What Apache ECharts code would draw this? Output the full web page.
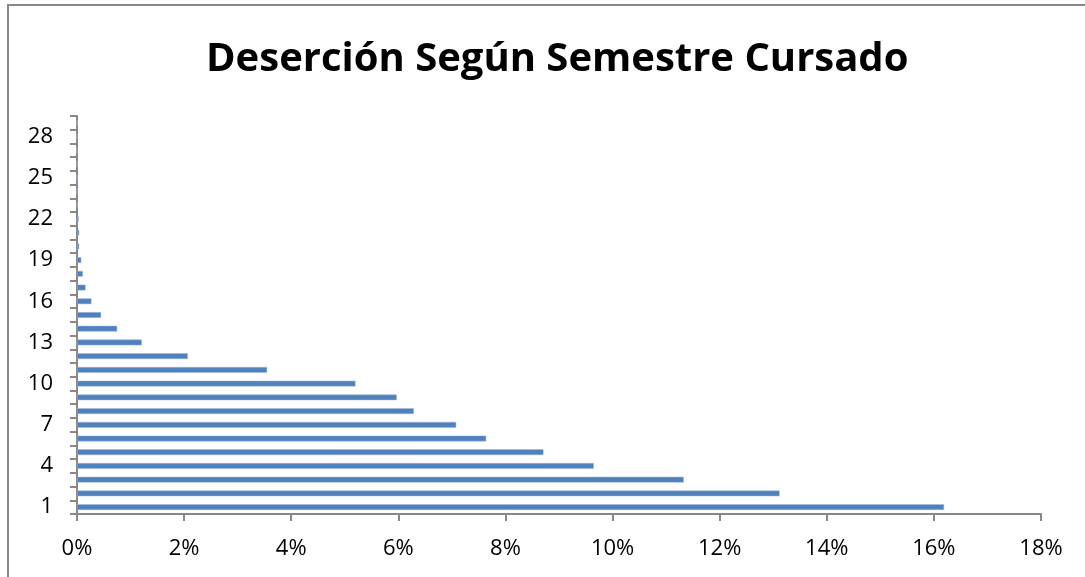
<!DOCTYPE html>
<html>
<head>
<meta charset="utf-8">
<script src="https://cdn.jsdelivr.net/npm/echarts@6/dist/echarts.min.js"></script>
<style>
  html, body { margin: 0; padding: 0; background: #fff; }
  #chart { width: 1085px; height: 577px; }
</style>
</head>
<body>
<div id="chart"></div>
<script>
// semestres 1..29
const semestres = [];
for (let i = 1; i <= 29; i++) semestres.push(String(i));

// porcentaje de deserción por semestre
const desercion = [
  16.19, 13.12, 11.33, 9.65, 8.71, 7.64, 7.08, 6.29, 5.97, 5.20,
  3.55, 2.07, 1.21, 0.75, 0.45, 0.27, 0.16, 0.11, 0.08, 0.04,
  0.04, 0.03, 0.01, 0, 0, 0, 0, 0, 0
];

const ejeX = { min: 0, max: 18, interval: 2 };

let myChart = echarts.init(document.getElementById('chart'));
myChart.setOption({
  animation: false,
  title: {
    text: 'Deserción Según Semestre Cursado',
    left: 201,
    top: 35,
    textStyle: {
      fontFamily: 'Open Sans',
      fontWeight: 'bold',
      fontSize: 40,
      color: '#000'
    }
  },
  graphic: [{
    type: 'rect',
    shape: { x: 8, y: 5, width: 1100, height: 620 },
    style: { fill: null, stroke: '#888', lineWidth: 2 },
    silent: true
  }],
  grid: { left: 77, right: 44, top: 116, bottom: 63, containLabel: false },
  xAxis: {
    type: 'value',
    min: ejeX.min,
    max: ejeX.max,
    interval: ejeX.interval,
    axisLine: { show: true, lineStyle: { color: '#888', width: 2 } },
    axisTick: { show: true, length: 7, lineStyle: { color: '#888', width: 2 } },
    splitLine: { show: false },
    axisLabel: {
      formatter: '{value}%',
      fontFamily: 'Open Sans',
      fontSize: 22,
      color: '#000',
      margin: 24
    }
  },
  yAxis: {
    type: 'category',
    data: semestres,
    axisLine: { show: true, lineStyle: { color: '#888', width: 2 } },
    axisTick: { show: true, interval: 0, length: 7, lineStyle: { color: '#888', width: 2 } },
    axisLabel: {
      interval: 2,
      fontFamily: 'Open Sans',
      fontSize: 22,
      color: '#000',
      margin: 24
    }
  },
  series: [{
    type: 'bar',
    data: desercion,
    barWidth: '42%',
    itemStyle: { color: '#4F81BD', borderColor: '#9DB8DA', borderWidth: 0.5 }
  }]
});
</script>
</body>
</html>
